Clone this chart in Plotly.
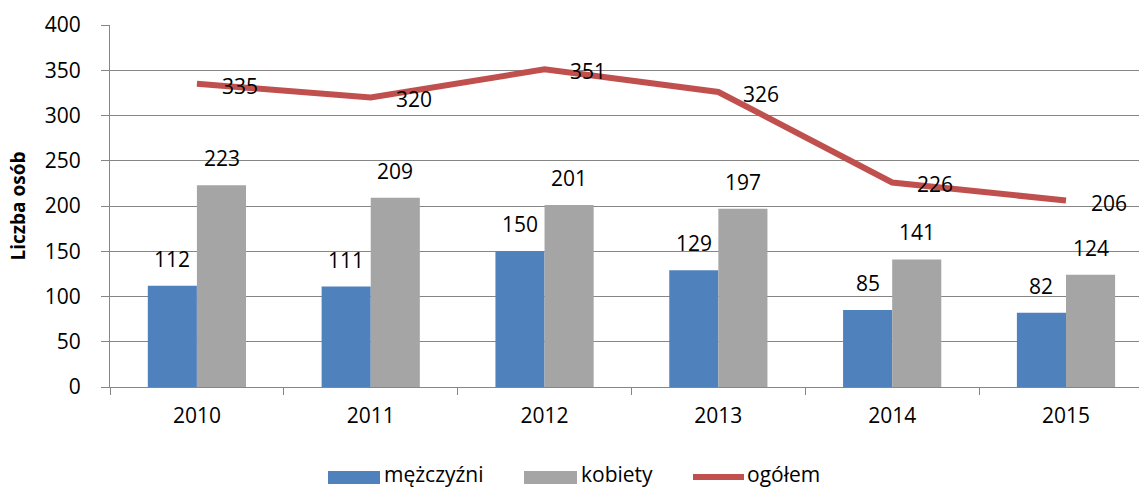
import plotly.graph_objects as go

years = ["2010", "2011", "2012", "2013", "2014", "2015"]
men = [112, 111, 150, 129, 85, 82]
women = [223, 209, 201, 197, 141, 124]
total = [335, 320, 351, 326, 226, 206]
series_names = ["mężczyźni", "kobiety", "ogółem"]
y_ticks = [0, 50, 100, 150, 200, 250, 300, 350, 400]

BLUE = "#4F81BD"
GRAY = "#A5A5A5"
RED = "#C0504D"
AXIS = "#868686"
FONT = "Open Sans"
FS = 21

fig = go.Figure()
fig.add_trace(go.Bar(x=years, y=men, name=series_names[0], marker=dict(color=BLUE, line=dict(width=0))))
fig.add_trace(go.Bar(x=years, y=women, name=series_names[1], marker=dict(color=GRAY, line=dict(width=0))))
fig.add_trace(go.Scatter(x=years, y=total, name=series_names[2], mode="lines",
                         line=dict(color=RED, width=6)))

ann = []
for i, (m, w, t) in enumerate(zip(men, women, total)):
    ann.append(dict(x=i, y=m, text=str(m), showarrow=False, xshift=-24.6, yshift=27,
                    xanchor="center", yanchor="middle", font=dict(size=FS, color="black", family=FONT)))
    ann.append(dict(x=i, y=w, text=str(w), showarrow=False, xshift=24.6, yshift=27,
                    xanchor="center", yanchor="middle", font=dict(size=FS, color="black", family=FONT)))
    ann.append(dict(x=i, y=t, text=str(t), showarrow=False, xshift=23, yshift=-2,
                    xanchor="left", yanchor="middle", font=dict(size=FS, color="black", family=FONT)))

# custom legend
L, W, B, H = 110, 1029, 387, 362
def px(x):
    return (x - L) / W
def py(y):
    return (B - y) / H

shapes = [
    dict(type="rect", xref="paper", yref="paper", x0=px(328), x1=px(380), y0=py(484), y1=py(471),
         fillcolor=BLUE, line=dict(width=0)),
    dict(type="rect", xref="paper", yref="paper", x0=px(524), x1=px(577), y0=py(484), y1=py(471),
         fillcolor=GRAY, line=dict(width=0)),
    dict(type="line", xref="paper", yref="paper", x0=px(693), x1=px(744), y0=py(477), y1=py(477),
         line=dict(color=RED, width=6)),
]
for name, xx in zip(series_names, [383, 580, 746]):
    ann.append(dict(xref="paper", yref="paper", x=px(xx), y=py(474), text=name, showarrow=False,
                    xanchor="left", yanchor="middle", borderpad=0,
                    font=dict(size=FS, color="black", family=FONT)))

fig.update_layout(
    width=1139, height=488,
    margin=dict(l=110, r=0, t=25, b=101),
    paper_bgcolor="white", plot_bgcolor="white",
    barmode="group", bargap=0.435, bargroupgap=0,
    showlegend=False,
    font=dict(family=FONT, size=FS, color="black"),
    annotations=ann, shapes=shapes,
    xaxis=dict(type="category", range=[-0.5, 5.42], showline=True, linecolor=AXIS, linewidth=1,
               ticks="outside", tickson="boundaries", ticklen=7, tickcolor=AXIS,
               showgrid=False, tickfont=dict(size=FS, family=FONT), ticklabelstandoff=10),
    yaxis=dict(range=[0, 400], tickvals=y_ticks, showline=True, linecolor=AXIS, linewidth=1,
               ticks="outside", ticklen=8, tickcolor=AXIS, showgrid=True, gridcolor=AXIS, gridwidth=1,
               zeroline=False, tickfont=dict(size=FS, family=FONT), ticklabelstandoff=16,
               title=dict(text="<b>Liczba osób</b>", font=dict(size=19, family=FONT), standoff=14)),
)

fig.write_html("out.html", config={"displayModeBar": False},
               post_script="document.body.style.margin='0';document.body.style.overflow='hidden';")
